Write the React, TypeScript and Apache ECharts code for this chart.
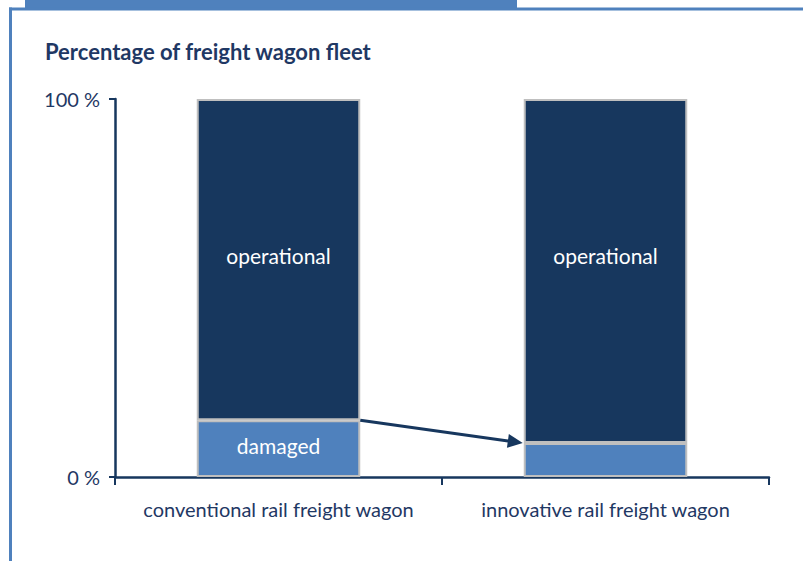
import React, { useEffect, useRef } from "react";
import * as echarts from "echarts";

const categories = ["conventional rail freight wagon", "innovative rail freight wagon"];
const damaged = [15, 9];
const operational = [85, 91];
const damagedLabelShown = [true, false];
const yTicks = [0, 100];

const NAVY = "#17375e";
const LIGHT = "#4f81bd";
const TEXT = "#1f3864";
const BORDER = "#bfbfbf";
const FONT = "Lato";

export default function App() {
  const ref = useRef<HTMLDivElement>(null);
  useEffect(() => {
    if (!ref.current) return;
    const chart = echarts.init(ref.current, null, { renderer: "svg" });
    chart.setOption({
      animation: false,
      backgroundColor: "#ffffff",
      title: {
        text: "Percentage of freight wagon fleet",
        left: 40,
        top: 35,
        textStyle: { fontFamily: FONT, fontWeight: "bold", fontSize: 22, color: TEXT },
      },
      grid: { left: 115, right: 34, top: 99, bottom: 84, containLabel: false },
      xAxis: {
        type: "category",
        data: categories,
        axisLine: { lineStyle: { color: NAVY, width: 2.5 } },
        axisTick: { show: true, interval: 0, length: 8, lineStyle: { color: NAVY, width: 2 } },
        axisLabel: { interval: 0, fontFamily: FONT, fontSize: 20, color: TEXT, margin: 22 },
      },
      yAxis: {
        type: "value",
        min: yTicks[0],
        max: yTicks[1],
        interval: yTicks[1] - yTicks[0],
        splitLine: { show: false },
        axisLine: { show: true, lineStyle: { color: NAVY, width: 2.5 } },
        axisTick: { show: true, length: 6, lineStyle: { color: NAVY, width: 2 } },
        axisLabel: { fontFamily: FONT, fontSize: 20, color: TEXT, margin: 15, formatter: (v: number) => `${v} %` },
      },
      series: [
        {
          name: "damaged",
          type: "bar",
          stack: "fleet",
          barCategoryGap: "50%",
          itemStyle: { color: LIGHT, borderColor: BORDER, borderWidth: 2 },
          data: damaged.map((v, i) => ({
            value: v,
            label: {
              show: damagedLabelShown[i],
              position: "inside",
              formatter: "{a}",
              color: "#ffffff",
              fontFamily: FONT,
              fontSize: 21,
              offset: [0, -3],
            },
          })),
        },
        {
          name: "operational",
          type: "bar",
          stack: "fleet",
          barCategoryGap: "50%",
          itemStyle: { color: NAVY, borderColor: BORDER, borderWidth: 2 },
          label: {
            show: true,
            position: "insideTop",
            distance: 146,
            formatter: "{a}",
            color: "#ffffff",
            fontFamily: FONT,
            fontSize: 21,
          },
          data: operational,
        },
      ],
    });

    const p0 = chart.convertToPixel({ xAxisIndex: 0, yAxisIndex: 0 }, [0, damaged[0]]) as number[];
    const p1 = chart.convertToPixel({ xAxisIndex: 0, yAxisIndex: 0 }, [1, damaged[1]]) as number[];
    const halfW = ((p1[0] - p0[0]) * 0.5) / 2;
    const sx = p0[0] + halfW;
    const sy = p0[1];
    const tx = p1[0] - halfW - 1;
    const ty = p1[1];
    const dx = tx - sx;
    const dy = ty - sy;
    const len = Math.sqrt(dx * dx + dy * dy);
    const ux = dx / len;
    const uy = dy / len;
    const headLen = 15;
    const headHalf = 7;
    const bx = tx - ux * headLen;
    const by = ty - uy * headLen;

    chart.setOption({
      graphic: [
        { type: "rect", shape: { x: 25, y: 0, width: 492, height: 10 }, style: { fill: LIGHT }, silent: true },
        { type: "rect", shape: { x: 9, y: 7.5, width: 794, height: 3 }, style: { fill: LIGHT }, silent: true },
        { type: "rect", shape: { x: 9, y: 7.5, width: 3, height: 554 }, style: { fill: LIGHT }, silent: true },
        {
          type: "line",
          shape: { x1: sx, y1: sy, x2: bx + ux * 2, y2: by + uy * 2 },
          style: { stroke: NAVY, lineWidth: 3 },
          z: 10,
          silent: true,
        },
        {
          type: "polygon",
          shape: {
            points: [
              [tx, ty],
              [bx - uy * headHalf, by + ux * headHalf],
              [bx + uy * headHalf, by - ux * headHalf],
            ],
          },
          style: { fill: NAVY },
          z: 10,
          silent: true,
        },
      ],
    });

    return () => chart.dispose();
  }, []);
  return (
    <div
      ref={ref}
      style={{ position: "fixed", left: 0, top: 0, width: 803, height: 561, background: "#fff" }}
    />
  );
}
